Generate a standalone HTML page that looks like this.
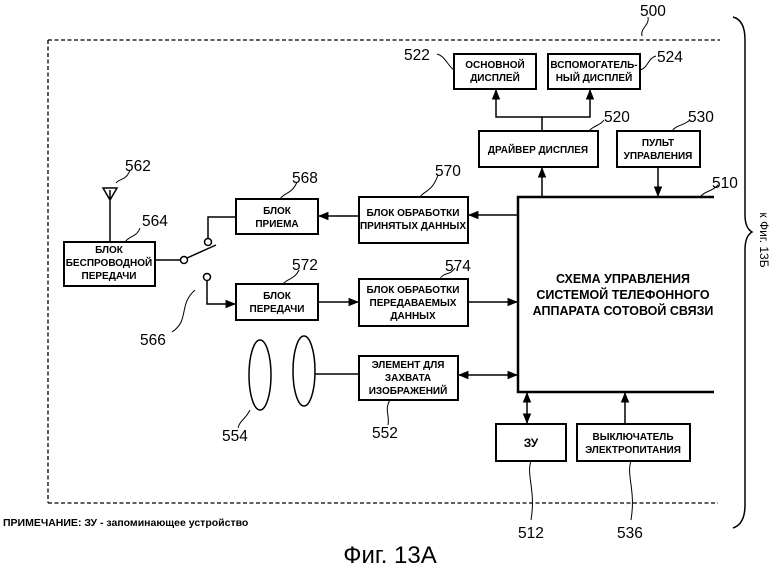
<!DOCTYPE html>
<html><head><meta charset="utf-8"><style>
html,body{margin:0;padding:0;background:#fff}
svg{display:block}
text{font-family:"Liberation Sans",sans-serif;fill:#000}
.b{font-size:10px;font-weight:bold;text-anchor:middle}
.n{font-size:15.5px}
</style></head><body>
<svg width="780" height="571" viewBox="0 0 780 571" xmlns="http://www.w3.org/2000/svg">
<defs><marker id="a" viewBox="0 0 10 10" refX="9" refY="5" markerWidth="7" markerHeight="7" orient="auto-start-reverse"><path d="M0,1 L10,5 L0,9z" fill="#000"/></marker></defs>
<g fill="none" stroke="#000">
<path d="M48,40 H720 M48,503 H718 M48,40 V503" stroke-dasharray="4,2.5" stroke-width="1.3"/>
<path d="M733,17 Q745,20 745,40 V215 Q745,228 752,232 Q745,236 745,250 V505 Q745,524 733,528" stroke-width="1.5"/>
<g stroke-width="2">
<rect x="454" y="54" width="82" height="35"/>
<rect x="548" y="54" width="92" height="35"/>
<rect x="479" y="131" width="119" height="36"/>
<rect x="617" y="131" width="83" height="36"/>
<rect x="359" y="197" width="109" height="46"/>
<rect x="236" y="199" width="82" height="35"/>
<rect x="64" y="242" width="91" height="44"/>
<rect x="236" y="284" width="82" height="36"/>
<rect x="359" y="279" width="109" height="47"/>
<rect x="359" y="356" width="99" height="44"/>
<rect x="496" y="424" width="70" height="37"/>
<rect x="577" y="424" width="113" height="37"/>
<path d="M714,197 H518 V392 H714" stroke-width="2.5"/>
</g>
<g stroke-width="1.5">
<path d="M542,131 V117 H496 V90" marker-end="url(#a)"/>
<path d="M542,117 H590 V90" marker-end="url(#a)"/>
<path d="M542,197 V168" marker-end="url(#a)"/>
<path d="M658,167 V196" marker-end="url(#a)"/>
<path d="M518,215 H469" marker-end="url(#a)"/>
<path d="M359,216 H319" marker-end="url(#a)"/>
<path d="M236,217 H208 V238"/>
<path d="M155,260 H180"/>
<path d="M187,258 L216,245"/>
<path d="M207,281 V304 H235" marker-end="url(#a)"/>
<path d="M318,302 H358" marker-end="url(#a)"/>
<path d="M468,302 H517" marker-end="url(#a)"/>
<path d="M315,374 H359"/>
<path d="M459,375 H517" marker-start="url(#a)" marker-end="url(#a)"/>
<path d="M527,393 V423" marker-start="url(#a)" marker-end="url(#a)"/>
<path d="M625,424 V393" marker-end="url(#a)"/>
<path d="M110,242 V190 M103,188 L110,200 L117,188 Z"/>
<circle cx="208" cy="242" r="3.5" fill="#fff"/>
<circle cx="184" cy="260" r="3.5" fill="#fff"/>
<circle cx="207" cy="277" r="3.5" fill="#fff"/>
<ellipse cx="260" cy="375" rx="11" ry="35"/>
<ellipse cx="304" cy="371" rx="11" ry="35"/>
</g>
<g stroke-width="1">
<path d="M648,17 C650,25 640,28 642,36"/>
<path d="M437,54 C445,56 448,66 454,70"/>
<path d="M640,70 C648,68 648,58 656,56"/>
<path d="M589,131 C594,125 600,126 604,120"/>
<path d="M672,131 C676,125 683,126 690,120"/>
<path d="M700,197 C706,190 712,192 718,185"/>
<path d="M420,197 C425,190 432,192 438,175"/>
<path d="M280,199 C285,192 292,194 297,182"/>
<path d="M116,183 C120,178 126,181 130,170"/>
<path d="M125,242 C130,235 136,238 140,228"/>
<path d="M283,284 C288,278 294,280 299,270"/>
<path d="M440,279 C443,272 450,276 455,268"/>
<path d="M195,290 C178,305 190,320 172,332"/>
<path d="M250,410 C245,420 240,420 238,428"/>
<path d="M390,400 C384,410 390,415 388,425"/>
<path d="M531,461 C526,475 536,490 531,520"/>
<path d="M631,461 C626,475 636,490 631,520"/>
</g>
</g>
<text class="b" x="495" y="68">ОСНОВНОЙ</text><text class="b" x="495" y="81">ДИСПЛЕЙ</text>
<text class="b" x="594" y="68">ВСПОМОГАТЕЛЬ-</text><text class="b" x="594" y="81">НЫЙ ДИСПЛЕЙ</text>
<text class="b" x="538" y="153">ДРАЙВЕР ДИСПЛЕЯ</text>
<text class="b" x="658" y="146">ПУЛЬТ</text><text class="b" x="658" y="159">УПРАВЛЕНИЯ</text>
<text class="b" x="413" y="216">БЛОК ОБРАБОТКИ</text><text class="b" x="413" y="229">ПРИНЯТЫХ ДАННЫХ</text>
<text class="b" x="277" y="214">БЛОК</text><text class="b" x="277" y="227">ПРИЕМА</text>
<text class="b" x="109" y="253">БЛОК</text><text class="b" x="109" y="266">БЕСПРОВОДНОЙ</text><text class="b" x="109" y="279">ПЕРЕДАЧИ</text>
<text class="b" x="277" y="299">БЛОК</text><text class="b" x="277" y="312">ПЕРЕДАЧИ</text>
<text class="b" x="413" y="293">БЛОК ОБРАБОТКИ</text><text class="b" x="413" y="306">ПЕРЕДАВАЕМЫХ</text><text class="b" x="413" y="319">ДАННЫХ</text>
<text class="b" x="408" y="368">ЭЛЕМЕНТ ДЛЯ</text><text class="b" x="408" y="381">ЗАХВАТА</text><text class="b" x="408" y="394">ИЗОБРАЖЕНИЙ</text>
<text class="b" x="531" y="447" style="font-size:12px">ЗУ</text>
<text class="b" x="633" y="440">ВЫКЛЮЧАТЕЛЬ</text><text class="b" x="633" y="453">ЭЛЕКТРОПИТАНИЯ</text>
<text class="b" x="623" y="283" style="font-size:12.5px">СХЕМА УПРАВЛЕНИЯ</text>
<text class="b" x="623" y="299" style="font-size:12.5px">СИСТЕМОЙ ТЕЛЕФОННОГО</text>
<text class="b" x="623" y="315" style="font-size:12.5px">АППАРАТА СОТОВОЙ СВЯЗИ</text>
<text class="n" x="640" y="16">500</text>
<text class="n" x="404" y="60">522</text>
<text class="n" x="657" y="62">524</text>
<text class="n" x="604" y="122">520</text>
<text class="n" x="688" y="122">530</text>
<text class="n" x="712" y="188">510</text>
<text class="n" x="435" y="176">570</text>
<text class="n" x="292" y="183">568</text>
<text class="n" x="125" y="171">562</text>
<text class="n" x="142" y="226">564</text>
<text class="n" x="292" y="270">572</text>
<text class="n" x="445" y="271">574</text>
<text class="n" x="140" y="345">566</text>
<text class="n" x="222" y="441">554</text>
<text class="n" x="372" y="438">552</text>
<text class="n" x="518" y="538">512</text>
<text class="n" x="617" y="538">536</text>
<text x="3" y="526" style="font-size:10.5px;font-weight:bold">ПРИМЕЧАНИЕ:  ЗУ - запоминающее устройство</text>
<text x="390" y="563" style="font-size:24px;text-anchor:middle">Фиг. 13А</text>
<text transform="translate(760,240) rotate(90)" style="font-size:12px;text-anchor:middle">к Фиг. 13Б</text>
</svg>
</body></html>
